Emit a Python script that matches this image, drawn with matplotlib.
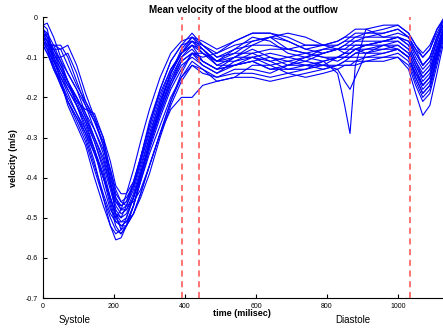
import matplotlib
matplotlib.use("Agg")
import matplotlib.pyplot as plt

plt.rcParams["font.family"] = ["Liberation Sans", "DejaVu Sans"]

# sample times (ms) shared by every curve
t = [0, 12, 30, 50, 70, 95, 120, 145, 170, 190,
     205, 220, 235, 255, 275,
     300, 330, 360, 390, 420,
     450, 490, 540, 590, 640, 690, 740, 790, 830, 850, 865, 880, 910, 960, 1000,
     1030, 1050, 1070, 1090, 1110, 1127]

# velocity curves (m/s)
curves = [
    [-0.02, -0.015, -0.05, -0.10, -0.14, -0.18, -0.22, -0.26, -0.32, -0.41,
     -0.49, -0.53, -0.52, -0.47, -0.40,
     -0.31, -0.22, -0.14, -0.08, -0.05,
     -0.08, -0.11, -0.08, -0.05, -0.06, -0.09, -0.10, -0.08, -0.07, -0.06, -0.06, -0.05, -0.05, -0.04, -0.03,
     -0.05, -0.09, -0.12, -0.10, -0.05, -0.01],
    [-0.06, -0.07, -0.07, -0.08, -0.12, -0.17, -0.21, -0.25, -0.30, -0.36,
     -0.42, -0.44, -0.44, -0.41, -0.35,
     -0.27, -0.18, -0.11, -0.07, -0.06,
     -0.07, -0.09, -0.06, -0.04, -0.04, -0.06, -0.08, -0.07, -0.06, -0.05, -0.05, -0.04, -0.04, -0.03, -0.02,
     -0.04, -0.07, -0.09, -0.07, -0.03, -0.01],
    [-0.04, -0.06, -0.11, -0.15, -0.19, -0.24, -0.29, -0.36, -0.45, -0.52,
     -0.555, -0.55, -0.52, -0.47, -0.41,
     -0.34, -0.27, -0.20, -0.15, -0.12,
     -0.14, -0.15, -0.14, -0.14, -0.15, -0.14, -0.13, -0.12, -0.12, -0.11, -0.11, -0.11, -0.10, -0.10, -0.10,
     -0.13, -0.19, -0.245, -0.22, -0.14, -0.07],
    [-0.08, -0.07, -0.07, -0.07, -0.10, -0.16, -0.22, -0.28, -0.34, -0.41,
     -0.46, -0.48, -0.47, -0.43, -0.37,
     -0.30, -0.23, -0.16, -0.11, -0.09,
     -0.10, -0.09, -0.07, -0.06, -0.05, -0.08, -0.09, -0.10, -0.10, -0.09, -0.08, -0.07, -0.07, -0.06, -0.06,
     -0.08, -0.12, -0.15, -0.13, -0.08, -0.03],
    [-0.05, -0.04, -0.09, -0.13, -0.16, -0.20, -0.25, -0.31, -0.37, -0.43,
     -0.48, -0.50, -0.49, -0.45, -0.39,
     -0.31, -0.22, -0.14, -0.09, -0.07,
     -0.11, -0.13, -0.10, -0.10, -0.12, -0.11, -0.10, -0.11, -0.14, -0.22, -0.29, -0.12, -0.03, -0.05, -0.05,
     -0.07, -0.11, -0.14, -0.12, -0.06, -0.02],
    [-0.07, -0.09, -0.12, -0.16, -0.21, -0.25, -0.30, -0.37, -0.44, -0.49,
     -0.51, -0.51, -0.50, -0.45, -0.39,
     -0.32, -0.24, -0.17, -0.12, -0.10,
     -0.12, -0.14, -0.12, -0.11, -0.13, -0.13, -0.12, -0.12, -0.13, -0.16, -0.18, -0.15, -0.09, -0.07, -0.08,
     -0.10, -0.15, -0.19, -0.17, -0.10, -0.05],
    [-0.05, -0.07, -0.12, -0.17, -0.21, -0.26, -0.31, -0.38, -0.45, -0.50,
     -0.53, -0.54, -0.52, -0.49, -0.44,
     -0.37, -0.29, -0.23, -0.20, -0.20,
     -0.17, -0.16, -0.15, -0.15, -0.16, -0.15, -0.14, -0.13, -0.12, -0.12, -0.12, -0.12, -0.11, -0.11, -0.10,
     -0.12, -0.17, -0.21, -0.19, -0.12, -0.06],
    [-0.03, -0.05, -0.08, -0.12, -0.16, -0.21, -0.26, -0.33, -0.42, -0.48,
     -0.50, -0.48, -0.44, -0.38, -0.31,
     -0.23, -0.15, -0.09, -0.06, -0.05,
     -0.06, -0.08, -0.06, -0.04, -0.04, -0.05, -0.07, -0.07, -0.06, -0.05, -0.04, -0.03, -0.03, -0.02, -0.02,
     -0.04, -0.07, -0.10, -0.08, -0.03, -0.005],
    [-0.06, -0.08, -0.11, -0.14, -0.17, -0.20, -0.24, -0.28, -0.33, -0.38,
     -0.43, -0.46, -0.47, -0.46, -0.43,
     -0.37, -0.29, -0.21, -0.14, -0.09,
     -0.09, -0.11, -0.10, -0.08, -0.10, -0.12, -0.11, -0.09, -0.08, -0.07, -0.07, -0.06, -0.06, -0.06, -0.05,
     -0.07, -0.11, -0.15, -0.13, -0.07, -0.03],
    [-0.03, -0.05, -0.08, -0.08, -0.07, -0.12, -0.19, -0.25, -0.32, -0.40,
     -0.45, -0.47, -0.46, -0.41, -0.35,
     -0.27, -0.19, -0.13, -0.09, -0.06,
     -0.08, -0.11, -0.11, -0.09, -0.08, -0.08, -0.07, -0.07, -0.08, -0.09, -0.09, -0.08, -0.07, -0.06, -0.05,
     -0.06, -0.09, -0.12, -0.10, -0.05, -0.02],
    [-0.07, -0.09, -0.13, -0.16, -0.20, -0.24, -0.28, -0.33, -0.39, -0.46,
     -0.51, -0.52, -0.52, -0.49, -0.44,
     -0.37, -0.29, -0.21, -0.15, -0.11,
     -0.13, -0.16, -0.15, -0.12, -0.12, -0.14, -0.15, -0.14, -0.13, -0.12, -0.12, -0.11, -0.11, -0.10, -0.09,
     -0.11, -0.16, -0.20, -0.18, -0.11, -0.05],
    [-0.04, -0.06, -0.10, -0.13, -0.17, -0.21, -0.23, -0.24, -0.30, -0.39,
     -0.45, -0.48, -0.48, -0.45, -0.40,
     -0.32, -0.23, -0.15, -0.10, -0.07,
     -0.08, -0.12, -0.12, -0.10, -0.09, -0.10, -0.11, -0.12, -0.10, -0.09, -0.09, -0.08, -0.08, -0.07, -0.07,
     -0.09, -0.13, -0.17, -0.15, -0.09, -0.04],
    [-0.02, -0.03, -0.10, -0.14, -0.18, -0.22, -0.27, -0.33, -0.40, -0.47,
     -0.52, -0.54, -0.52, -0.47, -0.40,
     -0.32, -0.23, -0.16, -0.10, -0.08,
     -0.11, -0.13, -0.12, -0.11, -0.13, -0.12, -0.10, -0.09, -0.08, -0.08, -0.08, -0.08, -0.09, -0.09, -0.08,
     -0.10, -0.14, -0.17, -0.15, -0.09, -0.04],
    [-0.05, -0.06, -0.08, -0.11, -0.14, -0.18, -0.24, -0.30, -0.36, -0.42,
     -0.46, -0.47, -0.46, -0.42, -0.36,
     -0.29, -0.21, -0.14, -0.09, -0.05,
     -0.07, -0.10, -0.09, -0.06, -0.05, -0.06, -0.08, -0.09, -0.08, -0.07, -0.06, -0.06, -0.05, -0.05, -0.04,
     -0.05, -0.08, -0.12, -0.10, -0.05, -0.02],
    [-0.06, -0.08, -0.13, -0.17, -0.21, -0.25, -0.29, -0.34, -0.40, -0.45,
     -0.49, -0.51, -0.51, -0.49, -0.45,
     -0.39, -0.30, -0.22, -0.16, -0.12,
     -0.13, -0.15, -0.13, -0.13, -0.14, -0.12, -0.12, -0.13, -0.12, -0.11, -0.10, -0.10, -0.10, -0.09, -0.08,
     -0.10, -0.14, -0.18, -0.16, -0.10, -0.05],
    [-0.04, -0.06, -0.09, -0.12, -0.16, -0.22, -0.28, -0.34, -0.40, -0.45,
     -0.49, -0.50, -0.47, -0.42, -0.35,
     -0.26, -0.18, -0.11, -0.07, -0.04,
     -0.07, -0.10, -0.08, -0.07, -0.05, -0.04, -0.05, -0.07, -0.07, -0.06, -0.05, -0.05, -0.04, -0.04, -0.03,
     -0.05, -0.08, -0.10, -0.08, -0.04, -0.01],
    [-0.03, -0.04, -0.07, -0.11, -0.16, -0.20, -0.25, -0.30, -0.35, -0.42,
     -0.47, -0.49, -0.48, -0.44, -0.38,
     -0.30, -0.21, -0.14, -0.09, -0.06,
     -0.09, -0.12, -0.10, -0.07, -0.07, -0.08, -0.09, -0.10, -0.11, -0.10, -0.09, -0.08, -0.07, -0.06, -0.05,
     -0.06, -0.10, -0.13, -0.11, -0.06, -0.02],
    [-0.06, -0.08, -0.11, -0.15, -0.18, -0.22, -0.26, -0.31, -0.38, -0.45,
     -0.50, -0.52, -0.51, -0.47, -0.41,
     -0.33, -0.25, -0.18, -0.13, -0.09,
     -0.11, -0.13, -0.12, -0.11, -0.10, -0.11, -0.12, -0.11, -0.10, -0.10, -0.10, -0.09, -0.09, -0.08, -0.08,
     -0.10, -0.15, -0.19, -0.17, -0.10, -0.04],
    [-0.05, -0.07, -0.10, -0.10, -0.09, -0.14, -0.21, -0.26, -0.31, -0.38,
     -0.44, -0.46, -0.45, -0.42, -0.36,
     -0.28, -0.20, -0.13, -0.09, -0.07,
     -0.09, -0.11, -0.09, -0.09, -0.11, -0.10, -0.09, -0.08, -0.08, -0.08, -0.07, -0.07, -0.07, -0.07, -0.06,
     -0.08, -0.12, -0.16, -0.14, -0.08, -0.03],
    [-0.04, -0.05, -0.10, -0.16, -0.22, -0.27, -0.32, -0.40, -0.47, -0.52,
     -0.54, -0.53, -0.50, -0.45, -0.39,
     -0.32, -0.24, -0.17, -0.11, -0.09,
     -0.12, -0.14, -0.11, -0.10, -0.11, -0.13, -0.13, -0.11, -0.10, -0.10, -0.10, -0.09, -0.08, -0.08, -0.07,
     -0.09, -0.13, -0.17, -0.15, -0.08, -0.03],
]

# phase markers (ms)
markers = [391, 439, 1034]

fig = plt.figure(figsize=(4.43, 3.29), dpi=100)
ax = fig.add_axes([0.097, 0.094, 0.903, 0.854])

for v in curves:
    ax.plot(t, v, color="#0000ff", linewidth=0.8)

for m in markers:
    ax.axvline(m, color="#ff5050", linestyle=(0, (4, 3)), linewidth=1.1)

ax.set_xlim(0, 1127)
ax.set_ylim(-0.7, 0)
ax.set_xticks([0, 200, 400, 600, 800, 1000])
ax.set_yticks([-0.7, -0.6, -0.5, -0.4, -0.3, -0.2, -0.1, 0])
ax.set_yticklabels(["-0.7", "-0.6", "-0.5", "-0.4", "-0.3", "-0.2", "-0.1", "0"])
ax.tick_params(direction="in", length=3, labelsize=5, width=0.8)
ax.spines["top"].set_visible(False)
ax.spines["right"].set_visible(False)

ax.set_title("Mean velocity of the blood at the outflow", fontsize=7, fontweight="bold", pad=3)
ax.set_ylabel("velocity (m/s)", fontsize=6.5, fontweight="bold", labelpad=6)
fig.text(242 / 443, 1 - 314 / 329, "time (milisec)", fontsize=6.5, fontweight="bold",
         ha="center", va="center")
fig.text(75 / 443, 1 - 320 / 329, "Systole", fontsize=7, ha="center", va="center")
fig.text(353 / 443, 1 - 320 / 329, "Diastole", fontsize=7, ha="center", va="center")

fig.savefig("out.png", dpi=100)
